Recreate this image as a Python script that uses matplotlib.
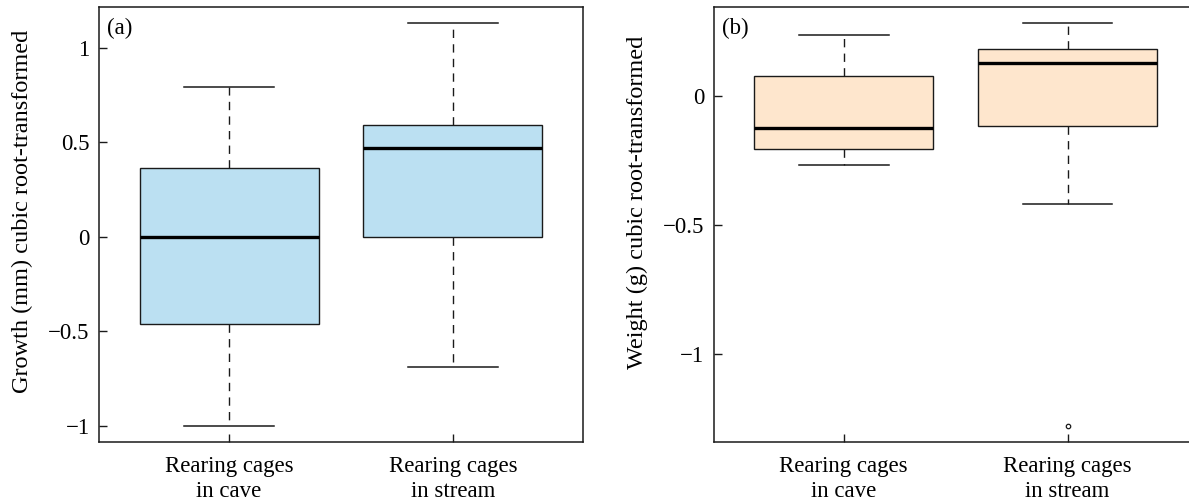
"""Boxplots of growth and weight for cave vs stream rearing cages.
"""
import matplotlib
matplotlib.use('Agg')
import matplotlib.pyplot as plt
from matplotlib.ticker import FuncFormatter

plt.rcParams['font.family'] = ['Liberation Serif', 'DejaVu Serif']
font_size = 16.5
label_size = 17.5

groups = ['Rearing cages\nin cave', 'Rearing cages\nin stream']

# panel (a): growth (mm), cubic root-transformed
growth_q1 = [-0.460, 0.0]
growth_med = [0.0, 0.473]
growth_q3 = [0.366, 0.593]
growth_lo = [-1.0, -0.692]
growth_hi = [0.793, 1.131]
growth_out = [[], []]

# panel (b): weight (g), cubic root-transformed
weight_q1 = [-0.202, -0.116]
weight_med = [-0.123, 0.130]
weight_q3 = [0.080, 0.183]
weight_lo = [-0.264, -0.417]
weight_hi = [0.238, 0.283]
weight_out = [[], [-1.276]]

yticks_a = [-1, -0.5, 0, 0.5, 1]
yticks_b = [-1, -0.5, 0]

edge = '#1a1a1a'


def r_limits(lo, hi):
    """R style axis range: data range padded by 4% each side."""
    pad = 0.04 * (hi - lo)
    return lo - pad, hi + pad


def fmt(v, pos):
    s = '%g' % v
    return s.replace('-', '\u2212')


def draw_panel(ax, q1, med, q3, lo, hi, out, face, ylabel, yticks, tag,
               label_y=0.53):
    stats = []
    for i in range(len(groups)):
        stats.append(dict(q1=q1[i], med=med[i], q3=q3[i],
                          whislo=lo[i], whishi=hi[i], fliers=out[i]))
    ax.bxp(stats, positions=[1, 2], widths=0.8, capwidths=0.4,
           patch_artist=True, showfliers=True,
           boxprops=dict(facecolor=face, edgecolor=edge, linewidth=1.0),
           medianprops=dict(color='black', linewidth=2.4,
                            solid_capstyle='butt'),
           whiskerprops=dict(color=edge, linewidth=1.0,
                             linestyle=(0, (6, 4.5))),
           capprops=dict(color=edge, linewidth=1.1),
           flierprops=dict(marker='o', markersize=3.2,
                           markerfacecolor='none', markeredgecolor=edge,
                           markeredgewidth=0.9))

    all_vals = lo + hi + [v for o in out for v in o]
    ax.set_ylim(*r_limits(min(all_vals), max(all_vals)))
    ax.set_xlim(*r_limits(0.5, len(groups) + 0.5))

    ax.set_xticks([1, 2])
    ax.set_xticklabels(groups, fontsize=font_size, linespacing=1.27)
    ax.set_yticks(yticks)
    ax.yaxis.set_major_formatter(FuncFormatter(fmt))
    ax.tick_params(direction='in', length=5.5, width=1.0, color=edge,
                   labelsize=font_size)
    ax.tick_params(axis='y', pad=7)
    ax.tick_params(axis='x', pad=10)
    for sp in ax.spines.values():
        sp.set_linewidth(1.1)
        sp.set_color(edge)

    ax.set_ylabel(ylabel, fontsize=label_size)
    ax.yaxis.set_label_coords(-0.137, label_y)
    ax.text(0.0166, 0.975, tag, transform=ax.transAxes, fontsize=font_size,
            ha='left', va='top')


fig = plt.figure(figsize=(11.89, 5), dpi=100)
ax_a = fig.add_axes([0.0835, 0.1166, 0.4066, 0.8688])
ax_b = fig.add_axes([0.6005, 0.1166, 0.4066, 0.8688])

draw_panel(ax_a, growth_q1, growth_med, growth_q3, growth_lo, growth_hi,
           growth_out, '#bbe0f2', 'Growth (mm) cubic root-transformed',
           yticks_a, '(a)')
draw_panel(ax_b, weight_q1, weight_med, weight_q3, weight_lo, weight_hi,
           weight_out, '#fee6cd', 'Weight (g) cubic root-transformed',
           yticks_b, '(b)', label_y=0.55)

fig.savefig('out.png', dpi=100)
plt.close(fig)
